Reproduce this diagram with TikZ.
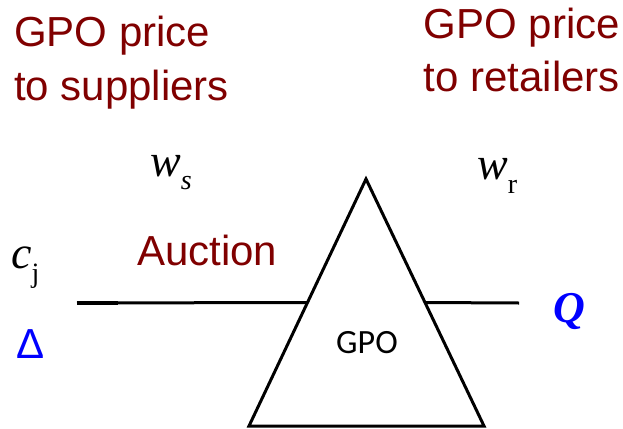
\documentclass[tikz,border=0pt]{standalone}
\usepackage{fontspec}
\setmainfont{Liberation Sans}
\newfontfamily\timesfont{Liberation Serif}
\newfontfamily\calibrifont{Carlito}
\usetikzlibrary{calc}
\definecolor{gpored}{HTML}{800000}
\newcommand{\lowsub}[2]{\raisebox{-#1}{\fontsize{28}{28}\selectfont #2}}

\begin{document}
\begin{tikzpicture}[x=1pt, y=-1pt, every node/.style={inner sep=0pt, anchor=base west},
	big/.style={font=\fontsize{42}{50}\selectfont},
	var/.style={font=\timesfont\fontsize{46}{50}\selectfont\itshape},
	boldvar/.style={font=\timesfont\fontsize{44}{50}\selectfont\itshape\bfseries},
	line/.style={line width=3pt}]
	\useasboundingbox (0,0) rectangle (623,428);
	\node[big, gpored] (supA) at (14,47) {GPO price};
	\node[big, gpored] (supB) at (14,100) {to suppliers};
	\node[big, gpored, anchor=base east] (retA) at (620,39) {GPO price};
	\node[big, gpored, anchor=base east] (retB) at (620,91) {to retailers};
	\node[var] (ws) at (150,176) {w\lowsub{13pt}{s}};
	\node[var] (wr) at (477,179) {w\lowsub{14pt}{\upshape r}};
	\node[var] (cj) at (11,268) {c\lowsub{14pt}{\upshape j}};
	\node[big, gpored] (auction) at (137,265) {Auction};
	\node[big, blue] (delta) at (16,358) {Δ};
	\node[boldvar, blue] (Q) at (553,322) {Q};
	\coordinate (apex) at (366,179);
	\coordinate (bl) at (249,426);
	\coordinate (br) at (484,426);
	\draw[line] (apex) -- (bl) -- (br) -- cycle;
	\node[font=\calibrifont\fontsize{34}{40}\selectfont, anchor=base] (gpo) at (367,353) {GPO};
	\coordinate (inL) at (77,303);
	\coordinate (outR) at (519,303);
	\draw[line] (inL) -- ($(apex)!.5!(bl)$);
	\draw[line] ($(apex)!.5!(br)$) -- (outR);
	\draw[line width=4pt] (inL) -- ++(41,0);
\end{tikzpicture}
\end{document}
